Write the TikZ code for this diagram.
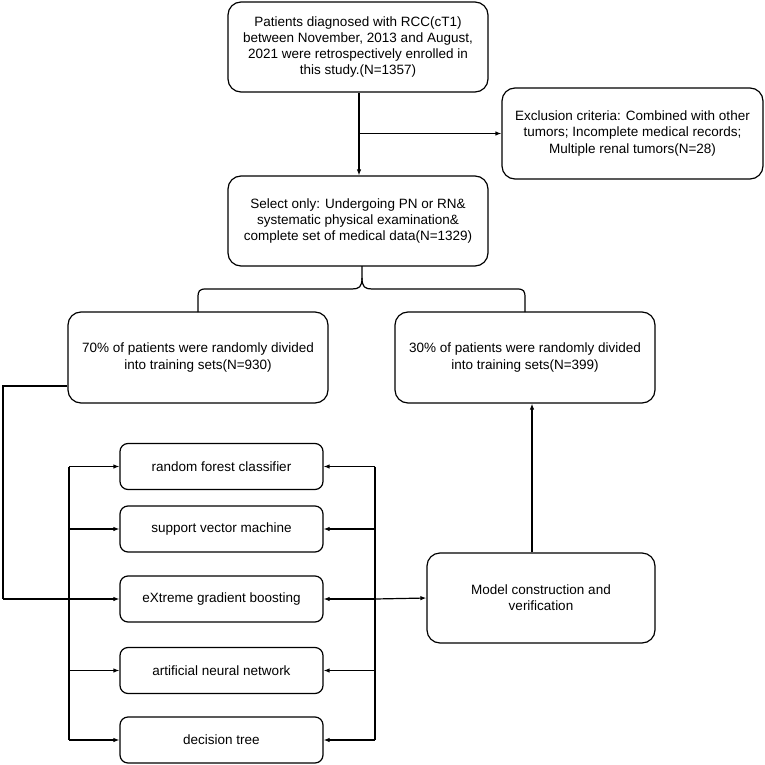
\documentclass[tikz,border=0pt]{standalone}
\usepackage{fontspec}
\setmainfont{Liberation Sans}
\usetikzlibrary{arrows.meta}
\begin{document}
\begin{tikzpicture}[x=1pt,y=-1pt,
  box/.style={draw,line width=1.2pt,rounded corners=13pt,align=center,inner sep=0pt,
    font=\fontsize{13.5}{16.3}\selectfont},
  bigbox/.style={box,minimum width=260pt,minimum height=90pt},
  smallbox/.style={box,rounded corners=8pt,minimum width=203pt,minimum height=46pt},
  conn/.style={line width=1.2pt},
  arr/.style={conn,-{Latex[length=6pt,width=4.5pt]}},
  ]
\useasboundingbox (0,0) rectangle (764,765);
\node[bigbox] (top) at (358,47) {Patients diagnosed with RCC(cT1)\\between November, 2013 and August,\\2021 were retrospectively enrolled in\\this study.(N=1357)};
\node[bigbox,minimum width=261pt,minimum height=91pt] (excl) at (632.5,133.5) {Exclusion criteria: Combined with other\\tumors; Incomplete medical records;\\Multiple renal tumors(N=28)};
\node[bigbox] (sel) at (358,221) {Select only: Undergoing PN or RN\&\\systematic physical examination\&\\complete set of medical data(N=1329)};
\node[bigbox,minimum height=91pt] (p70) at (198,357.5) {70\% of patients were randomly divided\\into training sets(N=930)};
\node[bigbox,minimum height=91pt] (p30) at (525,357.5) {30\% of patients were randomly divided\\into training sets(N=399)};
\node[smallbox] (rf) at (221.5,466.5) {random forest classifier};
\node[smallbox] (svm) at (221.5,529) {support vector machine};
\node[smallbox] (xgb) at (221.5,599) {eXtreme gradient boosting};
\node[smallbox] (ann) at (221.5,670.5) {artificial neural network};
\node[smallbox] (dt) at (221.5,740) {decision tree};
\node[bigbox,minimum width=228pt] (model) at (541,598) {Model construction and\\verification};
% top flow
\draw[arr] (top.south -| 359,0) -- (sel.north -| 359,0);
\coordinate (br) at (359,133.5);
\draw[arr] (br) -- (excl.west);
% brace
\draw[conn] (198,312) -- (198,298) .. controls (198,291) and (199,289) .. (206,289) -- (352,289)
  .. controls (359,289) and (362,287) .. (362,278) -- (362,266);
\draw[conn] (525,312) -- (525,298) .. controls (525,291) and (524,289) .. (517,289) -- (372,289)
  .. controls (365,289) and (362,287) .. (362,278);
% left feed
\coordinate (lf1) at (3,386);
\coordinate (lf2) at (3,599);
\draw[conn] (p70.west |- 0,386) -- (lf1) -- (lf2);
\draw[arr] (lf2) -- (xgb.west);
% left bus
\coordinate (lb1) at (69,466.5);
\coordinate (lb2) at (69,740);
\draw[conn] (lb1) -- (lb2);
\foreach \n in {rf,svm,ann,dt} \draw[arr] (69,0 |- \n.west) -- (\n.west);
% right bus
\coordinate (rb1) at (375,466.5);
\coordinate (rb2) at (375,740);
\draw[conn] (rb1) -- (rb2);
\foreach \n in {rf,svm,xgb,ann,dt} \draw[arr] (375,0 |- \n.east) -- (\n.east);
\draw[arr] (375,599) -- (model.west);
% model to 30%
\draw[arr] (model.north -| 532,0) -- (p30.south -| 532,0);
\end{tikzpicture}
\end{document}
